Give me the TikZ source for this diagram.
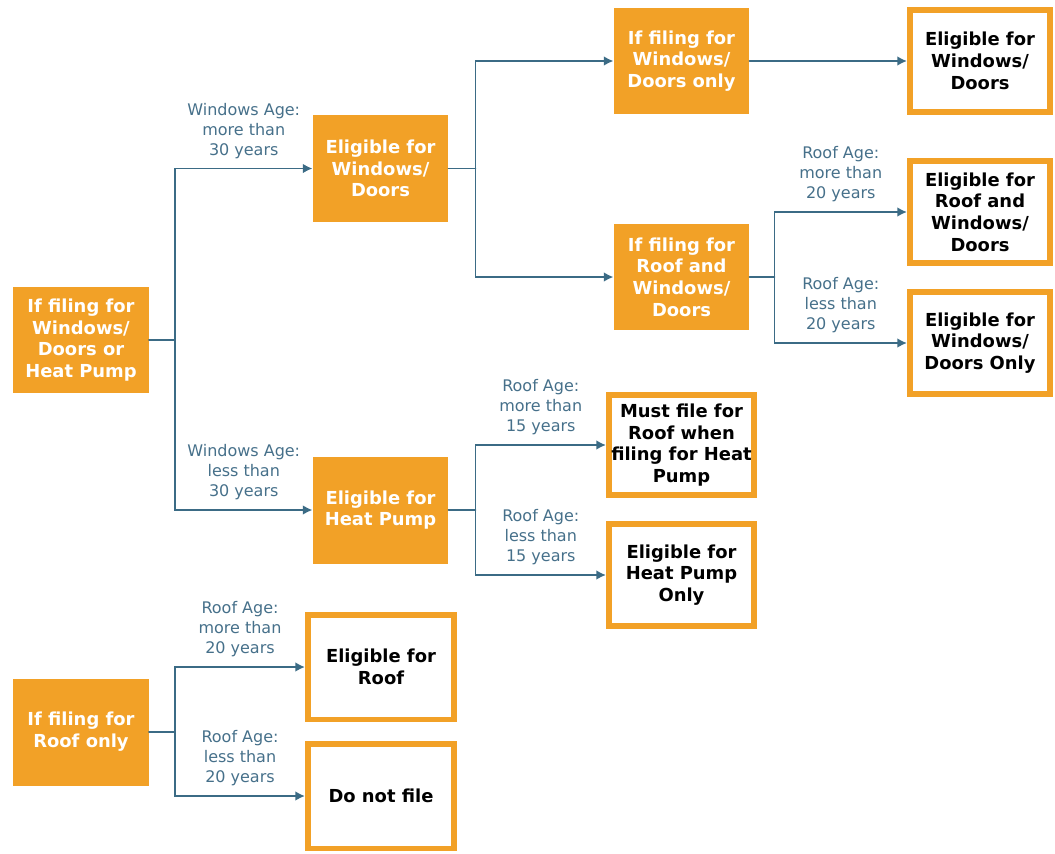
\documentclass[tikz,border=0pt]{standalone}
\usepackage{fontspec}
\setmainfont{DejaVu Sans}
\usetikzlibrary{arrows.meta}

\definecolor{boxorange}{HTML}{F2A127}
\definecolor{linkblue}{HTML}{3B6B85}
\definecolor{labelblue}{HTML}{46708A}

\begin{document}
\begin{tikzpicture}[x=0.02cm, y=-0.02cm, line cap=round,
    askbox/.style={fill=boxorange, text=white, align=center, inner sep=0pt, outer sep=0pt,
        minimum width=2.72cm, minimum height=2.14cm,
        font=\fontsize{10.2}{12.4}\selectfont\bfseries},
    endbox/.style={draw=boxorange, line width=3.4pt, fill=white, text=black, align=center,
        inner sep=0pt, minimum width=2.8cm, minimum height=2.04cm,
        font=\fontsize{10.2}{12.4}\selectfont\bfseries},
    conn/.style={linkblue, line width=1.1pt},
    arr/.style={conn, -{Latex[length=5.5pt, width=5.5pt]}},
    lbl/.style={above=4pt, text=labelblue, align=center, inner sep=1pt,
        font=\fontsize{9.1}{11.4}\selectfont}
    ]

    \useasboundingbox (0,0) rectangle (1055,853);

    % question boxes
    \node[askbox] (wdhp) at (81,340) {If filing for\\Windows/\\Doors or\\Heat Pump};
    \node[askbox] (eligwd) at (380.5,168.5) {Eligible for\\Windows/\\Doors};
    \node[askbox] (eleghp) at (380.5,510) {Eligible for\\Heat Pump};
    \node[askbox] (wdonly) at (681.5,61) {If filing for\\Windows/\\Doors only};
    \node[askbox] (roofwd) at (681.5,277) {If filing for\\Roof and\\Windows/\\Doors};
    \node[askbox] (roofonly) at (81,732) {If filing for\\Roof only};

    % result boxes
    \node[endbox] (reswd) at (980,61) {Eligible for\\Windows/\\Doors};
    \node[endbox] (resroofwd) at (980,212) {Eligible for\\Roof and\\Windows/\\Doors};
    \node[endbox] (reswdonly) at (980,343) {Eligible for\\Windows/\\Doors Only};
    \node[endbox, minimum width=2.9cm, minimum height=2cm] (resmust) at (681.5,445) {Must file for\\Roof when\\filing for Heat\\Pump};
    \node[endbox, minimum width=2.9cm] (reshp) at (681.5,575) {Eligible for\\Heat Pump\\Only};
    \node[endbox, minimum width=2.92cm, minimum height=2.1cm] (resroof) at (381,667) {Eligible for\\Roof};
    \node[endbox, minimum width=2.92cm, minimum height=2.1cm] (resnot) at (381,796) {Do not file};

    % windows / doors or heat pump
    \draw[conn] (wdhp.east) -- ++(26,0) coordinate (t1);
    \draw[arr] (t1) |- node[lbl, pos=0.75] {Windows Age:\\more than\\30 years} (eligwd.west);
    \draw[arr] (t1) |- node[lbl, pos=0.75] {Windows Age:\\less than\\30 years} (eleghp.west);

    \draw[conn] (eligwd.east) -- ++(27,0) coordinate (t2);
    \draw[arr] (t2) |- (wdonly.west);
    \draw[arr] (t2) |- (roofwd.west);
    \draw[arr] (wdonly.east) -- (reswd.west);

    \draw[conn] (roofwd.east) -- ++(25,0) coordinate (t3);
    \draw[arr] (t3) |- node[lbl, pos=0.75] {Roof Age:\\more than\\20 years} (resroofwd.west);
    \draw[arr] (t3) |- node[lbl, pos=0.75] {Roof Age:\\less than\\20 years} (reswdonly.west);

    \draw[conn] (eleghp.east) -- ++(27,0) coordinate (t4);
    \draw[arr] (t4) |- node[lbl, pos=0.75] {Roof Age:\\more than\\15 years} (resmust.west);
    \draw[arr] (t4) |- node[lbl, pos=0.75] {Roof Age:\\less than\\15 years} (reshp.west);

    % roof only
    \draw[conn] (roofonly.east) -- ++(26,0) coordinate (t5);
    \draw[arr] (t5) |- node[lbl, pos=0.75] {Roof Age:\\more than\\20 years} (resroof.west);
    \draw[arr] (t5) |- node[lbl, pos=0.75] {Roof Age:\\less than\\20 years} (resnot.west);

\end{tikzpicture}
\end{document}
